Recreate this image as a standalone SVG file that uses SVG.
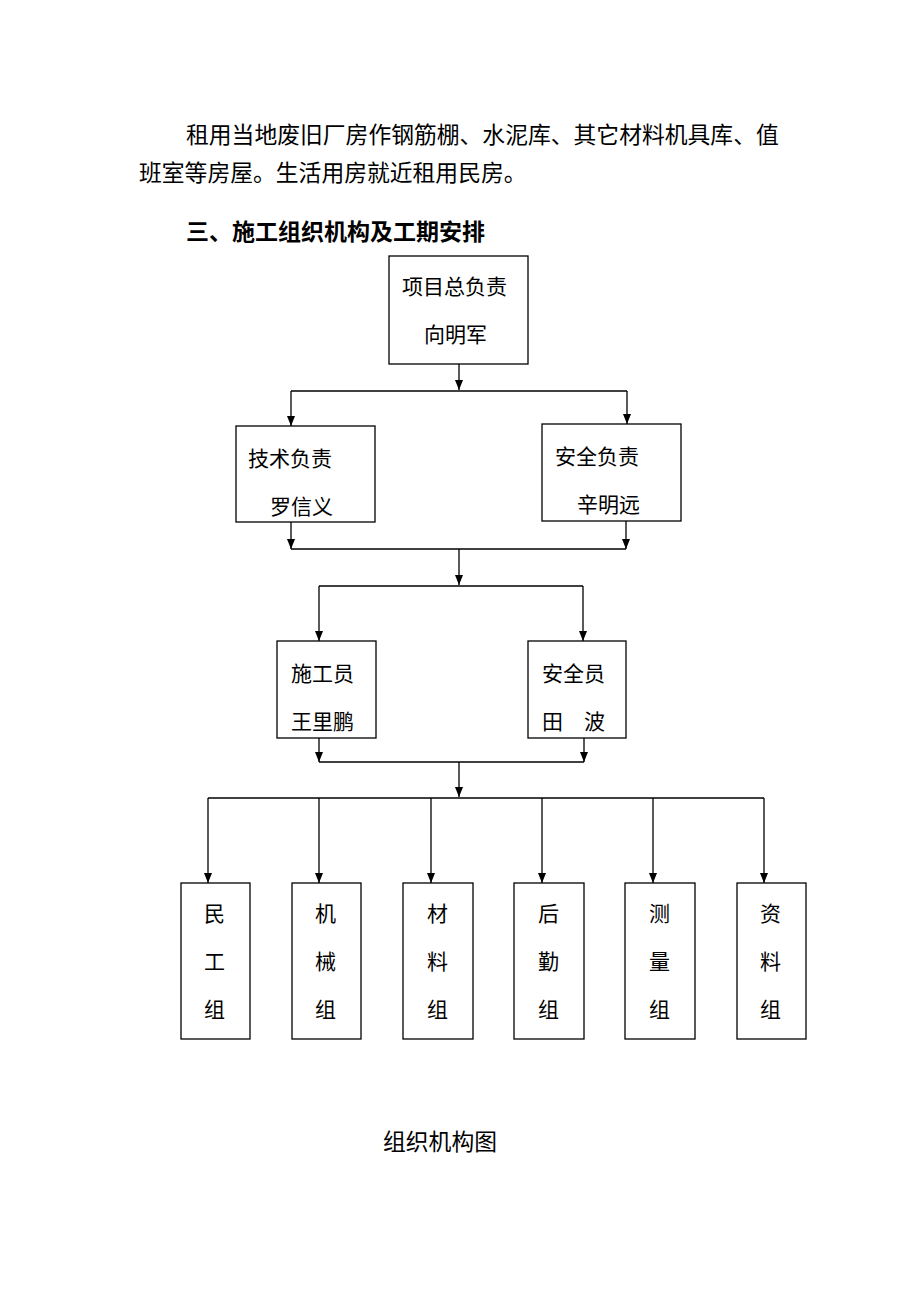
<svg xmlns="http://www.w3.org/2000/svg" width="920" height="1302" viewBox="0 0 920 1302">
<style>
text{font-family:"Noto Sans CJK SC","Noto Sans CJK JP",sans-serif;fill:#000}
.p{font-size:22.8px}
.h{font-size:23px;font-weight:bold}
.b{font-size:21px}
.box{fill:#fff;stroke:#000;stroke-width:1.3}
.c{fill:none;stroke:#000;stroke-width:1.3}
.a{marker-end:url(#ah)}
</style>
<defs>
<marker id="ah" markerUnits="userSpaceOnUse" markerWidth="10" markerHeight="8" refX="10" refY="4" orient="auto">
<path d="M0,0 L10,4 L0,8 z" fill="#000"/>
</marker>
</defs>
<rect width="920" height="1302" fill="#fff"/>
<text class="p" x="186" y="143">租用当地废旧厂房作钢筋棚、水泥库、其它材料机具库、值</text>
<text class="p" x="139" y="181">班室等房屋。生活用房就近租用民房。</text>
<text class="h" x="186" y="240">三、施工组织机构及工期安排</text>
<g id="connectors">
<path class="c a" d="M459,364 V390"/>
<path class="c" d="M291,391 H627"/>
<path class="c a" d="M291,391 V426"/>
<path class="c a" d="M627,391 V424"/>
<path class="c a" d="M291,522 V549"/>
<path class="c a" d="M626,521 V549"/>
<path class="c" d="M291,549 H626"/>
<path class="c a" d="M459,549 V585"/>
<path class="c" d="M319,586 H583"/>
<path class="c a" d="M319,586 V641"/>
<path class="c a" d="M583,586 V641"/>
<path class="c a" d="M319,738 V762"/>
<path class="c a" d="M584,738 V762"/>
<path class="c" d="M319,762 H584"/>
<path class="c a" d="M459,762 V797"/>
<path class="c" d="M208,798 H764"/>
<path class="c a" d="M208,798 V883"/>
<path class="c a" d="M319,798 V883"/>
<path class="c a" d="M431,798 V883"/>
<path class="c a" d="M542,798 V883"/>
<path class="c a" d="M653,798 V883"/>
<path class="c a" d="M764,798 V883"/>
</g>
<g id="n-top"><rect class="box" x="389" y="256" width="139" height="108"/><text class="b" x="402" y="294">项目总负责</text><text class="b" x="424" y="342">向明军</text></g>
<g id="n-tech"><rect class="box" x="236" y="426" width="139" height="96"/><text class="b" x="248" y="466">技术负责</text><text class="b" x="270" y="514">罗信义</text></g>
<g id="n-safe"><rect class="box" x="542" y="424" width="139" height="97"/><text class="b" x="555" y="464">安全负责</text><text class="b" x="577" y="512">辛明远</text></g>
<g id="n-sgy"><rect class="box" x="277" y="641" width="99" height="97"/><text class="b" x="291" y="681">施工员</text><text class="b" x="291" y="729">王里鹏</text></g>
<g id="n-aqy"><rect class="box" x="528" y="641" width="98" height="97"/><text class="b" x="542" y="681">安全员</text><text class="b" x="542" y="729">田　波</text></g>
<g id="n-mg"><rect class="box" x="181" y="883" width="69" height="156"/><text class="b" x="204" y="921">民</text><text class="b" x="204" y="969">工</text><text class="b" x="204" y="1017">组</text></g>
<g id="n-jx"><rect class="box" x="292" y="883" width="69" height="156"/><text class="b" x="315" y="921">机</text><text class="b" x="315" y="969">械</text><text class="b" x="315" y="1017">组</text></g>
<g id="n-cl"><rect class="box" x="403" y="883" width="70" height="156"/><text class="b" x="427" y="921">材</text><text class="b" x="427" y="969">料</text><text class="b" x="427" y="1017">组</text></g>
<g id="n-hq"><rect class="box" x="514" y="883" width="70" height="156"/><text class="b" x="538" y="921">后</text><text class="b" x="538" y="969">勤</text><text class="b" x="538" y="1017">组</text></g>
<g id="n-cll"><rect class="box" x="625" y="883" width="70" height="156"/><text class="b" x="649" y="921">测</text><text class="b" x="649" y="969">量</text><text class="b" x="649" y="1017">组</text></g>
<g id="n-zl"><rect class="box" x="737" y="883" width="69" height="156"/><text class="b" x="760" y="921">资</text><text class="b" x="760" y="969">料</text><text class="b" x="760" y="1017">组</text></g>
<text class="p" x="383" y="1150">组织机构图</text>
</svg>
